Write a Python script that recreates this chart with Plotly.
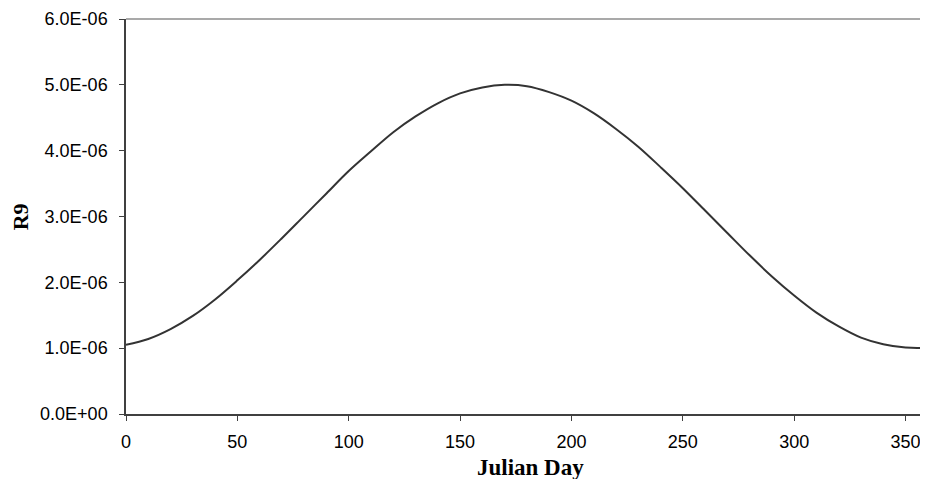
import plotly.graph_objects as go

# Julian day and R9 values (R9 in units of 1e-6)
days = [0, 10, 20, 30, 40, 50, 60, 70, 80, 90, 100, 110, 120, 130, 140, 150, 160,
        170, 180, 190, 200, 210, 220, 230, 240, 250, 260, 270, 280, 290, 300, 310,
        320, 330, 340, 350, 360, 365]
r9_e6 = [1.05, 1.14, 1.29, 1.49, 1.74, 2.03, 2.34, 2.67, 3.01, 3.35, 3.69, 3.99,
         4.28, 4.52, 4.72, 4.87, 4.96, 5.00, 4.98, 4.89, 4.76, 4.57, 4.33, 4.06,
         3.75, 3.43, 3.09, 2.75, 2.41, 2.09, 1.80, 1.54, 1.33, 1.16, 1.06, 1.01,
         1.01, 1.04]
r9 = [v * 1e-6 for v in r9_e6]

y_tickvals = [0, 1e-6, 2e-6, 3e-6, 4e-6, 5e-6, 6e-6]
y_ticktext = ["0.0E+00", "1.0E-06", "2.0E-06", "3.0E-06", "4.0E-06", "5.0E-06", "6.0E-06"]
x_tickvals = [0, 50, 100, 150, 200, 250, 300, 350]

fig = go.Figure()
fig.add_trace(go.Scatter(x=days, y=r9, mode="lines",
                         line=dict(color="#333333", width=2, shape="spline"),
                         showlegend=False, hoverinfo="skip"))

tickfont = dict(family="Liberation Sans, Arial", size=18, color="#000000")
titlefont = dict(family="Liberation Serif, Times New Roman", size=23, color="#000000")

# page body has an 8px default margin, so the figure is 912x471
fig.update_layout(
    width=912, height=471,
    margin=dict(l=118, r=0, t=11, b=65),
    paper_bgcolor="white", plot_bgcolor="white",
    xaxis=dict(range=[0, 356.5], tickvals=x_tickvals, showgrid=False, zeroline=False,
               automargin=False, ticklabeloverflow="allow",
               showline=True, linecolor="#404040", linewidth=1.5,
               ticks="outside", ticklen=5, tickcolor="#404040", tickwidth=1,
               ticklabelstandoff=6, tickfont=tickfont),
    yaxis=dict(range=[0, 6e-6], tickvals=y_tickvals, ticktext=y_ticktext,
               showgrid=False, zeroline=False, automargin=False,
               showline=True, linecolor="#404040", linewidth=1.5,
               ticks="outside", ticklen=5, tickcolor="#404040", tickwidth=1,
               ticklabelstandoff=8, tickfont=tickfont),
    shapes=[dict(type="line", xref="paper", yref="paper", x0=0, x1=1, y0=1, y1=1,
                 line=dict(color="#8c8c8c", width=1.5))],
    annotations=[
        dict(text="<b>Julian Day</b>", xref="paper", yref="paper",
             x=0.5097, y=-0.172, xanchor="center", yanchor="bottom",
             showarrow=False, font=titlefont),
        dict(text="<b>R9</b>", xref="paper", yref="paper",
             x=-0.1325, y=0.5, xanchor="center", yanchor="middle",
             showarrow=False, textangle=-90, font=dict(family=titlefont["family"], size=22, color="#000000")),
    ],
)

fig.write_html("out.html")
